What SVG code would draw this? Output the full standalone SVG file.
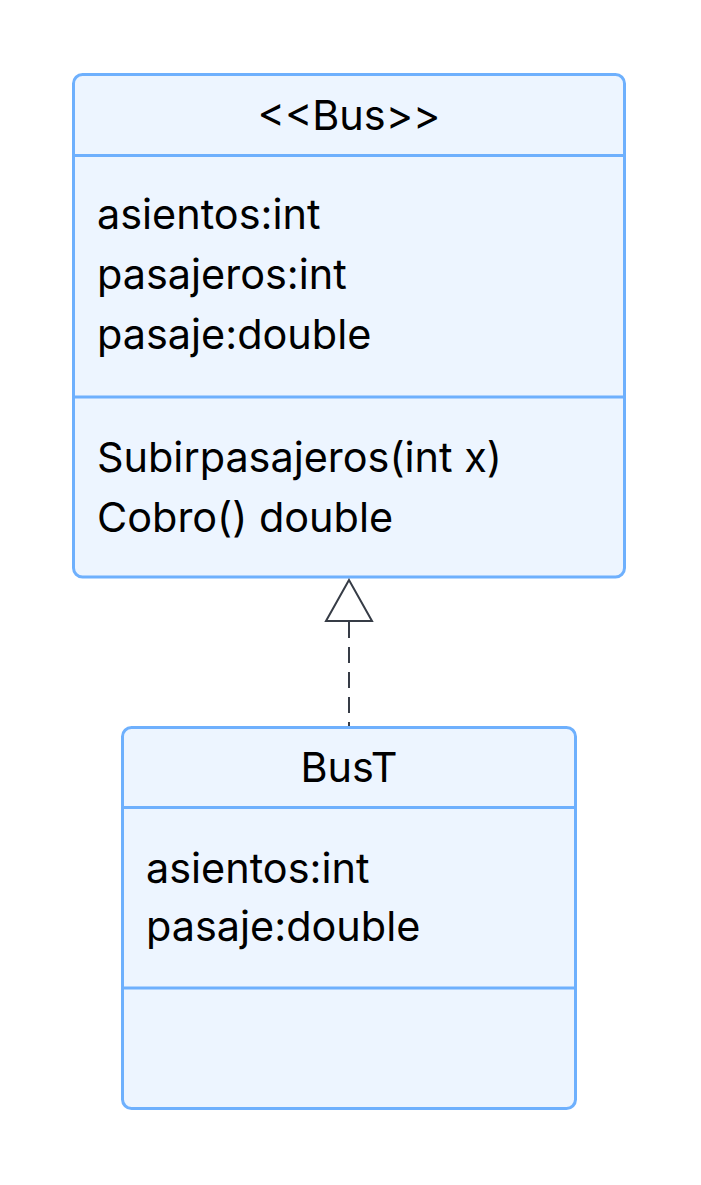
<svg xmlns="http://www.w3.org/2000/svg" width="701" height="1185" viewBox="0 0 701 1185">
<style>
.box{fill:#edf5ff;stroke:#6eb0fd;stroke-width:3}
.div{stroke:#6eb0fd;stroke-width:3}
.t{font-family:Inter,"Noto Sans","Liberation Sans",sans-serif;font-size:41.4px;fill:#000}
.title{text-anchor:middle}
.edge{stroke:#363c46;stroke-width:2;fill:none}
</style>
<rect width="701" height="1185" fill="#fff"/>
<g id="Bus">
<rect class="box" x="73.5" y="74.5" width="551" height="502.5" rx="9"/>
<line class="div" x1="73.5" y1="155.5" x2="624.5" y2="155.5"/>
<line class="div" x1="73.5" y1="397" x2="624.5" y2="397"/>
<text class="t title" x="349" y="129.5">&lt;&lt;Bus&gt;&gt;</text>
<text class="t" x="97" y="228.5">asientos:int</text>
<text class="t" x="97" y="289">pasajeros:int</text>
<text class="t" x="97" y="348.5">pasaje:double</text>
<text class="t" x="97" y="472">Subirpasajeros(int x)</text>
<text class="t" x="97" y="532">Cobro() double</text>
</g>
<g id="BusT">
<rect class="box" x="122.5" y="727.5" width="453" height="381" rx="9"/>
<line class="div" x1="122.5" y1="807.5" x2="575.5" y2="807.5"/>
<line class="div" x1="122.5" y1="988" x2="575.5" y2="988"/>
<text class="t title" x="349" y="782">BusT</text>
<text class="t" x="146" y="882.5">asientos:int</text>
<text class="t" x="146" y="941">pasaje:double</text>
</g>
<g id="connectors">
<path class="edge" d="M349 622 V726" stroke-dasharray="16 9"/>
<polygon class="edge" points="349,580 326,621 372,621" fill="#fff"/>
</g>
</svg>
